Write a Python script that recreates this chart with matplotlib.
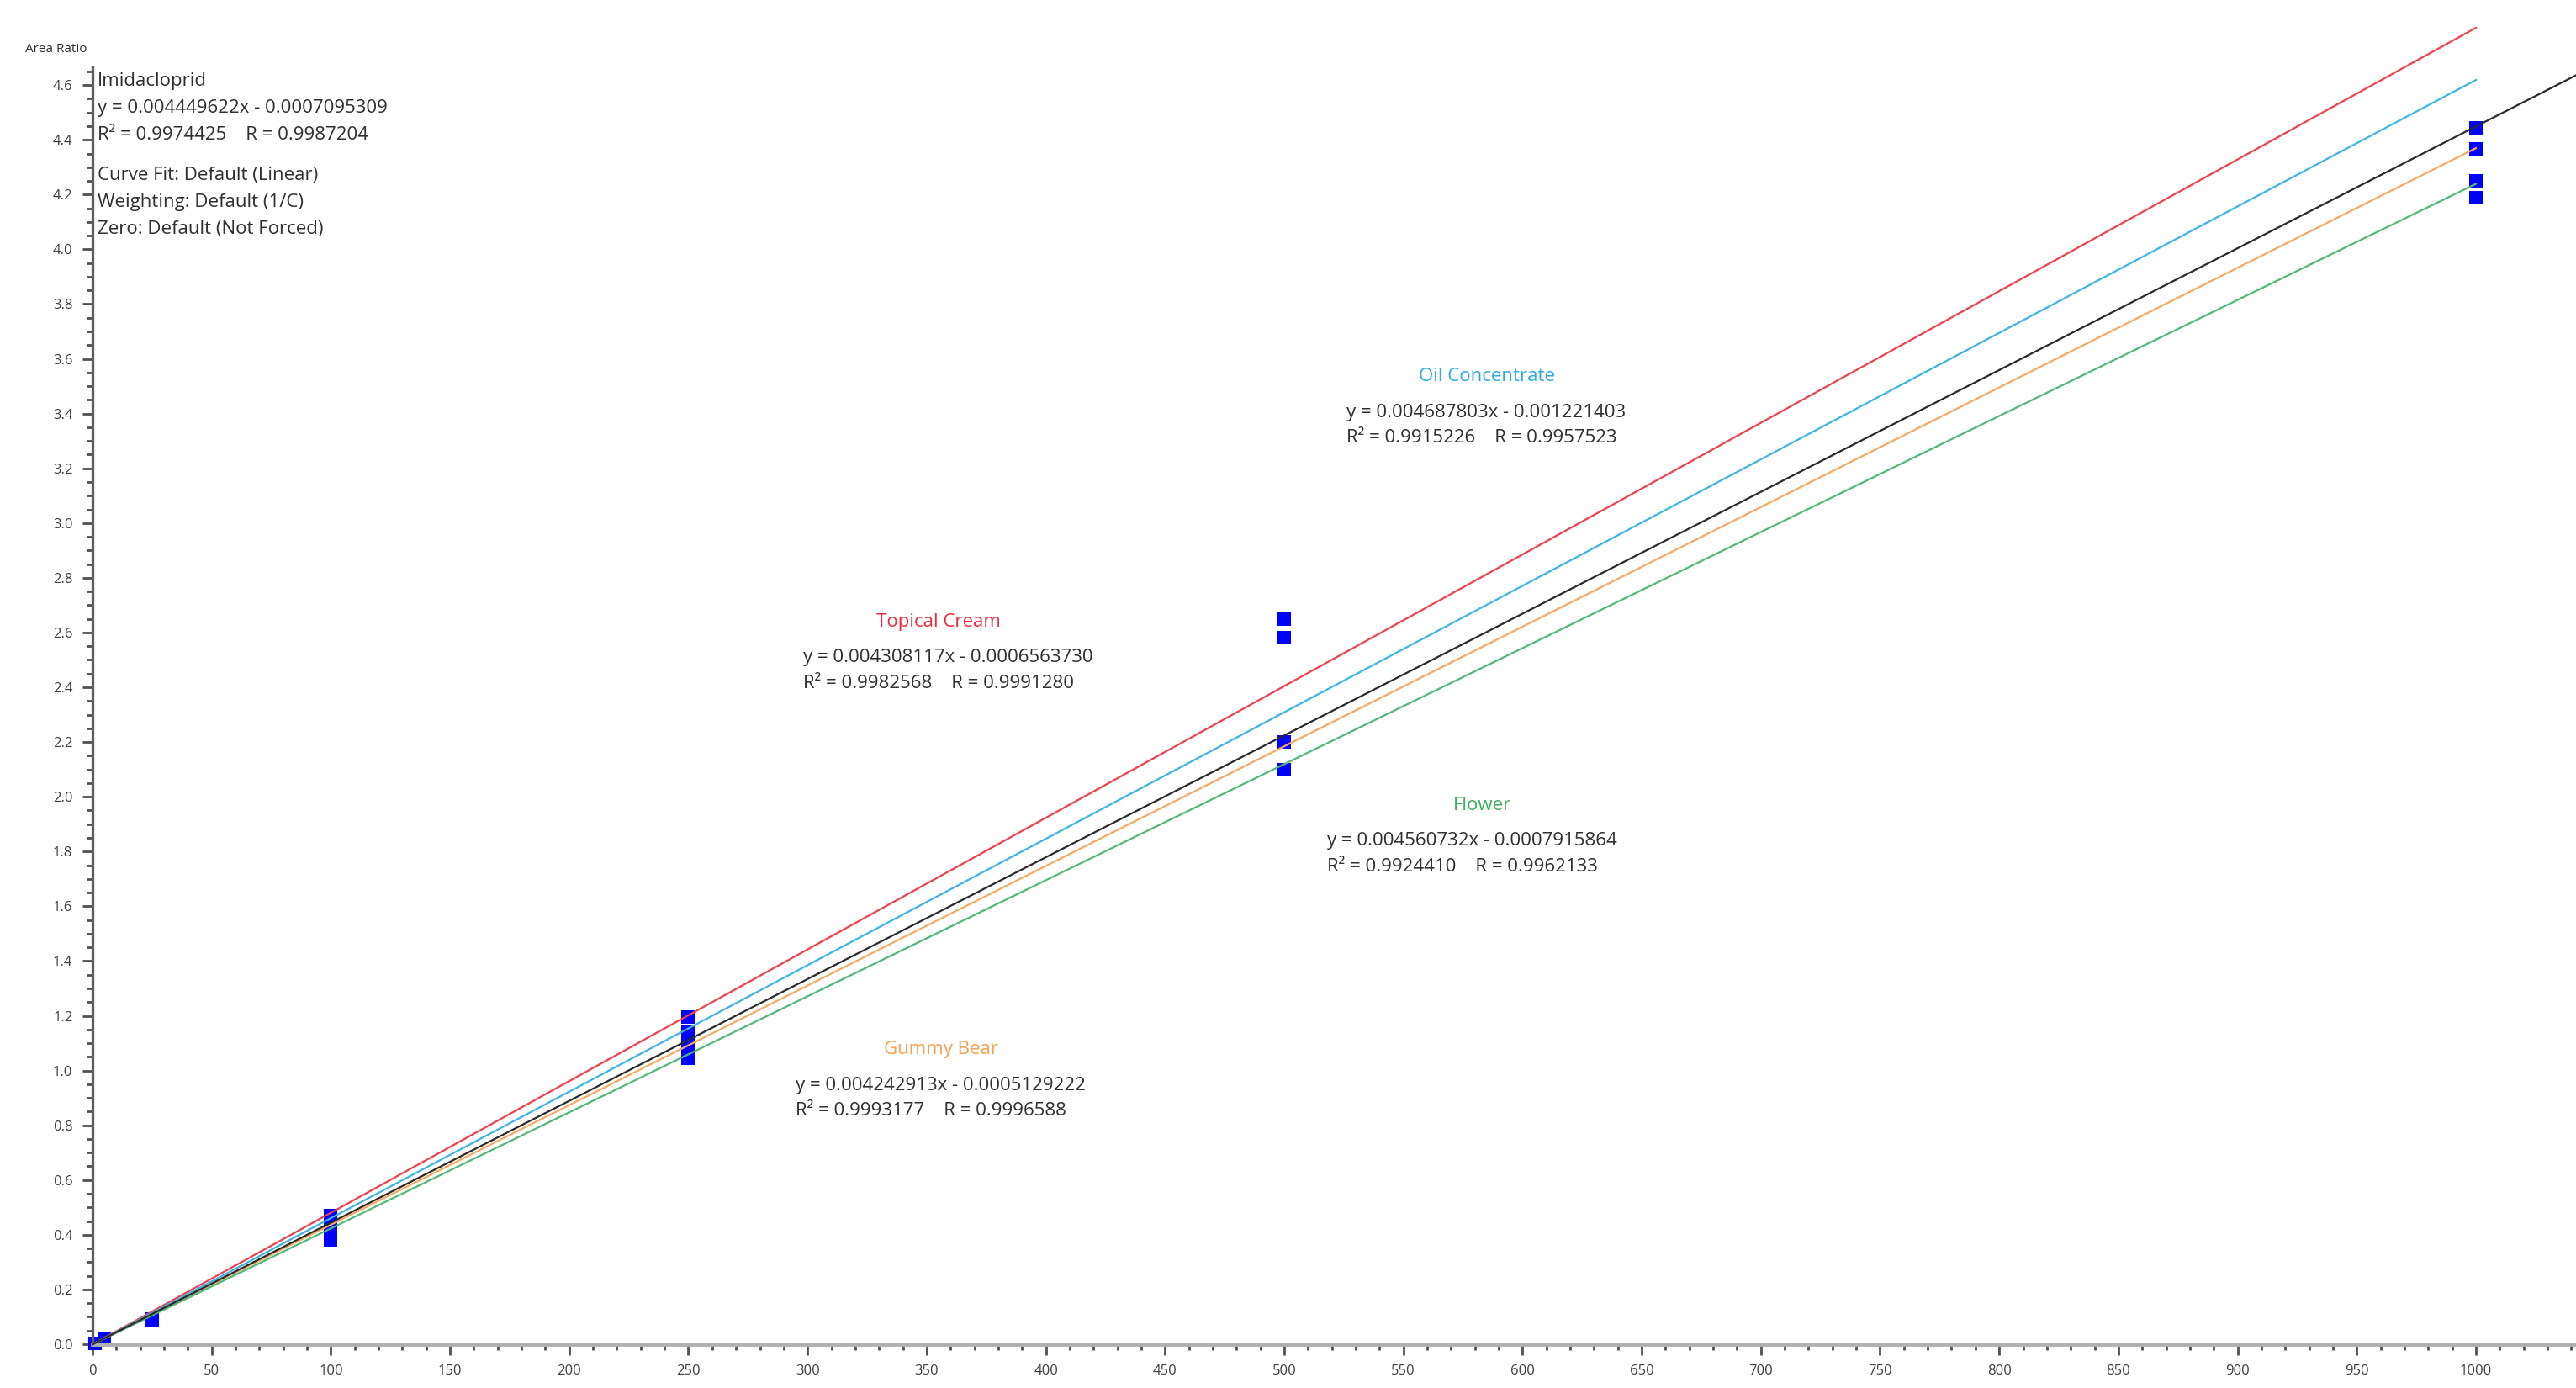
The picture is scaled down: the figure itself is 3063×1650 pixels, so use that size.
import numpy as np
import matplotlib
matplotlib.use('Agg')
import matplotlib.pyplot as plt
from matplotlib.ticker import MultipleLocator

plt.rcParams['font.family'] = ['Open Sans', 'DejaVu Sans']

# Puntos de calibracion (concentracion, area ratio)
conc_x = [1, 1, 5, 5, 25, 25,
          100, 100, 100, 100,
          250, 250, 250, 250,
          500, 500, 500, 500,
          1000, 1000, 1000, 1000]
area_y = [0.002, 0.004, 0.020, 0.022, 0.085, 0.092,
          0.470, 0.450, 0.400, 0.380,
          1.195, 1.143, 1.094, 1.045,
          2.649, 2.581, 2.200, 2.099,
          4.444, 4.367, 4.250, 4.189]

# Rectas de ajuste (pendiente / ordenada) de cada matriz
fit_names = ['Topical Cream', 'Oil Concentrate', 'Gummy Bear', 'Flower']
fit_slopes = [0.00481, 0.00462, 0.00437, 0.00424]
fit_icepts = [-0.00066, -0.00122, -0.00051, -0.00079]
fit_colors = ['#f0404e', '#3cb4ea', '#f8a860', '#50b878']

# Ajuste global
all_name = 'Imidacloprid'
all_slope = 0.004449622
all_icept = -0.0007095309

# Textos de las ecuaciones
eq_texts = {
    'Imidacloprid': ('y = 0.004449622x - 0.0007095309',
                     'R\u00b2 = 0.9974425    R = 0.9987204'),
    'Topical Cream': ('y = 0.004308117x - 0.0006563730',
                      'R\u00b2 = 0.9982568    R = 0.9991280'),
    'Oil Concentrate': ('y = 0.004687803x - 0.001221403',
                        'R\u00b2 = 0.9915226    R = 0.9957523'),
    'Flower': ('y = 0.004560732x - 0.0007915864',
               'R\u00b2 = 0.9924410    R = 0.9962133'),
    'Gummy Bear': ('y = 0.004242913x - 0.0005129222',
                   'R\u00b2 = 0.9993177    R = 0.9996588'),
}
fit_info = ['Curve Fit: Default (Linear)',
            'Weighting: Default (1/C)',
            'Zero: Default (Not Forced)']

X_MAX = 1042
Y_MAX = 4.665

fig = plt.figure(figsize=(30.63, 16.5), dpi=100)
ax = fig.add_axes([110 / 3063, 52 / 1650, 1 - 110 / 3063, (1598 - 80) / 1650])

# puntos
ax.plot(conc_x, area_y, 's', color='#0000ff', markersize=11.5,
        markeredgewidth=0, zorder=2, clip_on=False)

# rectas (sin recorte: la roja sobrepasa el borde superior)
xx = np.array([0, 1000])
for s, b, c in zip(fit_slopes, fit_icepts, fit_colors):
    ax.plot(xx, s * xx + b, color=c, lw=1.6, zorder=3, clip_on=False)
xa = np.array([0, X_MAX])
ax.plot(xa, all_slope * xa + all_icept, color='#2a2a2a', lw=1.6, zorder=3,
        clip_on=False)

ax.set_xlim(0, X_MAX)
ax.set_ylim(0, Y_MAX)

ax.spines['top'].set_visible(False)
ax.spines['right'].set_visible(False)
ax.spines['left'].set_color('#606060')
ax.spines['left'].set_linewidth(2.4)
ax.spines['bottom'].set_color('#b0b0b0')
ax.spines['bottom'].set_linewidth(3.5)

ax.xaxis.set_major_locator(MultipleLocator(50))
ax.xaxis.set_minor_locator(MultipleLocator(10))
ax.yaxis.set_major_locator(MultipleLocator(0.2))
ax.yaxis.set_minor_locator(MultipleLocator(0.05))
ax.yaxis.set_major_formatter(matplotlib.ticker.FormatStrFormatter('%.1f'))
ax.tick_params(which='major', length=9, width=2, color='#505050',
               labelsize=12, labelcolor='#404040', pad=8)
ax.tick_params(which='minor', length=5, width=2, color='#505050')

fig.text(30 / 3063, 1 - 58 / 1650, 'Area Ratio', fontsize=11,
         color='#303030', va='center', ha='left')

FS = 16
TXT = '#303030'

# bloque superior izquierdo
ax.text(2, 4.613, all_name, fontsize=FS, color=TXT, va='center')
ax.text(2, 4.517, eq_texts[all_name][0], fontsize=FS, color=TXT, va='center')
ax.text(2, 4.419, eq_texts[all_name][1], fontsize=FS, color=TXT, va='center')
for i, t in enumerate(fit_info):
    ax.text(2, 4.27 - i * 0.098, t, fontsize=FS, color=TXT, va='center')

# etiquetas de cada matriz: (titulo x, titulo y, ecuacion x, ecuacion y)
label_pos = {
    'Topical Cream': (355, 2.637, 298, 2.508),
    'Oil Concentrate': (585, 3.537, 526, 3.405),
    'Flower': (583, 1.967, 518, 1.838),
    'Gummy Bear': (356, 1.076, 295, 0.946),
}
for name, c in zip(fit_names, ['#ee2a3a', '#29abe2', '#f7a04c', '#3cb060']):
    tx, ty, ex, ey = label_pos[name]
    ax.text(tx, ty, name, fontsize=FS, color=c, ha='center', va='center')
    ax.text(ex, ey, eq_texts[name][0], fontsize=FS, color=TXT, va='center')
    ax.text(ex, ey - 0.094, eq_texts[name][1], fontsize=FS, color=TXT, va='center')

fig.savefig('out.png', dpi=100)
